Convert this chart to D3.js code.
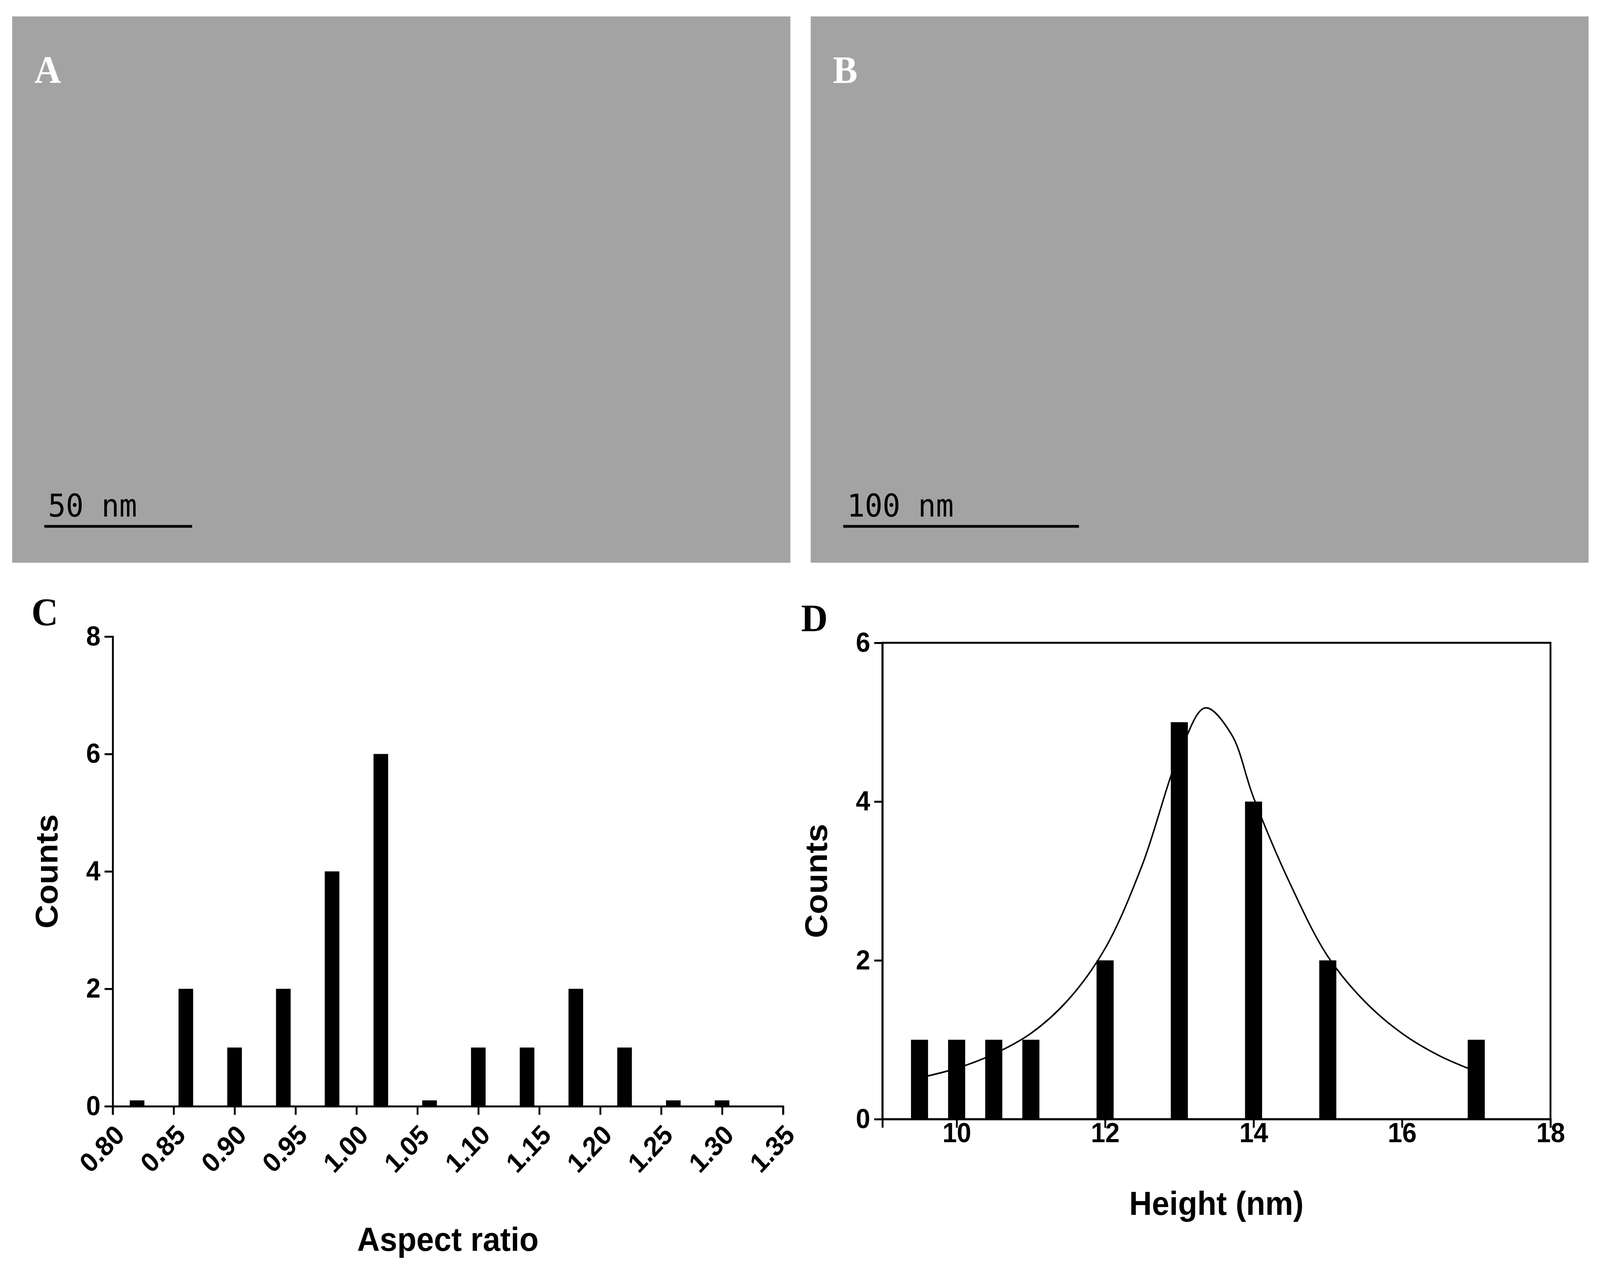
<!DOCTYPE html><html><head><meta charset="utf-8">
<script src="https://cdn.jsdelivr.net/npm/d3@7"></script>
<style>html,body{margin:0;padding:0;background:#fff;overflow:hidden;width:100vw;height:100vh}svg{display:block;width:100vw;height:100vh}</style></head><body>
<svg id="s" viewBox="0 0 4330 3268" preserveAspectRatio="none"></svg>
<script>
const cX=[0.82,0.86,0.90,0.94,0.98,1.02,1.06,1.10,1.14,1.18,1.22,1.26,1.30];
const cY=[0.1,2,1,2,4,6,0.1,1,1,2,1,0.1,0.1];
const cTicksX=[0.80,0.85,0.90,0.95,1.00,1.05,1.10,1.15,1.20,1.25,1.30,1.35];
const cTicksY=[0,2,4,6,8];
const dX=[9.5,10,10.5,11,12,13,14,15,17];
const dY=[1,1,1,1,2,5,4,2,1];
const dTicksX=[10,12,14,16,18];
const dTicksY=[0,2,4,6];
const fitX=[9.5,10,10.5,11,11.5,12,12.5,13,13.35,13.7,14,14.5,15,15.5,16,16.5,17];
const fitY=[0.52,0.64,0.82,1.08,1.5,2.15,3.2,4.6,5.18,4.85,4.05,2.95,2.05,1.48,1.08,0.8,0.6];

const svg=d3.select("#s");
[[33,42,2106,1398,"A","50 nm",120,520],[2194,42,2105,1398,"B","100 nm",2282,2920]].forEach(p=>{
  const g=svg.append("g");
  g.append("rect").attr("x",p[0]).attr("y",p[1]).attr("width",p[2]).attr("height",p[3]).attr("fill","#a3a3a3");
  g.append("text").attr("x",p[0]+60).attr("y",p[1]+170).text(p[4]).attr("font-family","Liberation Serif").attr("font-weight","bold").attr("font-size",100).attr("fill","#fff");
  g.append("line").attr("x1",p[6]).attr("x2",p[7]).attr("y1",p[1]+1305).attr("y2",p[1]+1305).attr("stroke","#000").attr("stroke-width",7);
  g.append("text").attr("x",p[6]+10).attr("y",p[1]+1280).text(p[5]).attr("font-family","DejaVu Sans Mono").attr("font-size",80).attr("fill","#000");
});

function panel(o){
  const g=svg.append("g");
  const x=d3.scaleLinear().domain(o.xd).range([o.l,o.r]);
  const y=d3.scaleLinear().domain(o.yd).range([o.b,o.t]);
  g.append("text").attr("x",o.l-220).attr("y",o.t-30).text(o.lab).attr("font-family","Liberation Serif").attr("font-weight","bold").attr("font-size",100);
  g.selectAll(".bar").data(o.xs).join("rect").attr("x",(d)=>x(d-o.bw/2)).attr("width",x(o.bw)-x(0))
    .attr("y",(d,i)=>y(o.ys[i])).attr("height",(d,i)=>o.b-y(o.ys[i])).attr("fill","#000");
  if(o.box) g.append("rect").attr("x",o.l).attr("y",o.t).attr("width",o.r-o.l).attr("height",o.b-o.t).attr("fill","none").attr("stroke","#000").attr("stroke-width",5);
  const ax=g.append("g").attr("transform",`translate(0,${o.b})`).call(d3.axisBottom(x).tickValues(o.tx).tickSize(22).tickFormat(o.fx));
  const ay=g.append("g").attr("transform",`translate(${o.l},0)`).call(d3.axisLeft(y).tickValues(o.ty).tickSize(22).tickFormat(d3.format("d")));
  [ax,ay].forEach(a=>{a.selectAll("path,line").attr("stroke","#000").attr("stroke-width",5);a.selectAll("text").attr("font-family","Liberation Sans").attr("font-weight","bold").attr("font-size",70).attr("fill","#000");});
  ay.selectAll("text").attr("dx",-8);
  if(o.rot) ax.selectAll("text").attr("text-anchor","end").attr("transform","rotate(-45)").attr("dx",-30).attr("dy",55);
  else ax.selectAll("text").attr("dy",34);
  g.append("text").attr("x",(o.l+o.r)/2).attr("y",o.b+o.xtOff).attr("text-anchor","middle").text(o.xt).attr("font-family","Liberation Sans").attr("font-weight","bold").attr("font-size",85);
  g.append("text").attr("transform",`translate(${o.l-150},${(o.t+o.b)/2}) rotate(-90)`).attr("text-anchor","middle").text("Counts").attr("font-family","Liberation Sans").attr("font-weight","bold").attr("font-size",85);
  if(o.fx2){
    const ln=d3.line().x((d,i)=>x(d)).y((d,i)=>y(o.fy[i])).curve(d3.curveCatmullRom);
    g.append("path").attr("d",ln(o.fx2)).attr("fill","none").attr("stroke","#000").attr("stroke-width",4);
  }
  return g;
}
panel({l:305,r:2119,t:1629,b:2831,xd:[0.80,1.35],yd:[0,8],xs:cX,ys:cY,bw:0.012,tx:cTicksX,ty:cTicksY,fx:d3.format(".2f"),rot:true,xt:"Aspect ratio",xtOff:370,lab:"C"});
panel({l:2388,r:4196,t:1645,b:2864,xd:[9,18],yd:[0,6],xs:dX,ys:dY,bw:0.23,tx:dTicksX,ty:dTicksY,fx:d3.format("d"),rot:false,box:true,xt:"Height (nm)",xtOff:245,lab:"D",fx2:fitX,fy:fitY});
</script></body></html>
